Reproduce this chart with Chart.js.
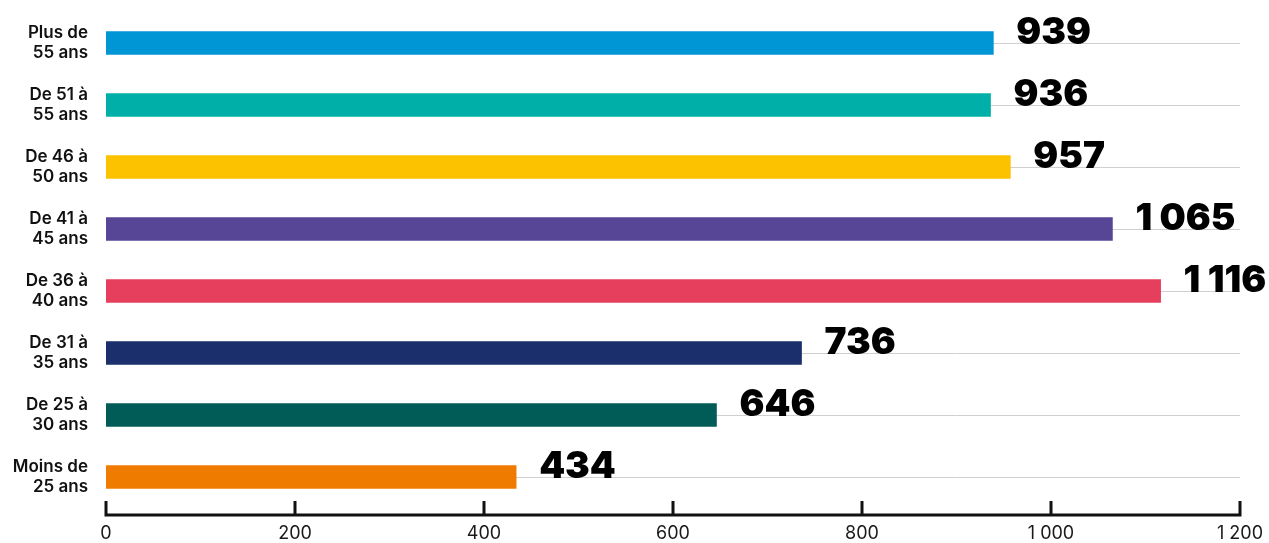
<!DOCTYPE html>
<html>
<head>
<meta charset="utf-8">
<script src="https://cdn.jsdelivr.net/npm/chart.js@4"></script>
<style>
  html, body { margin: 0; padding: 0; background: #ffffff; }
  #wrap { width: 1269px; height: 543px; position: relative; }
</style>
</head>
<body>
<div id="wrap"><canvas id="c"></canvas></div>
<script>
const categories = [
  ['Plus de', '55 ans'],
  ['De 51 à', '55 ans'],
  ['De 46 à', '50 ans'],
  ['De 41 à', '45 ans'],
  ['De 36 à', '40 ans'],
  ['De 31 à', '35 ans'],
  ['De 25 à', '30 ans'],
  ['Moins de', '25 ans']
];
const values = [939, 936, 957, 1065, 1116, 736, 646, 434];
const barColors = ['#0095d5', '#00b0a8', '#fcc200', '#574596', '#e63f5e', '#1a2f6b', '#015c57', '#ef7b00'];
const xTicks = [0, 200, 400, 600, 800, 1000, 1200];

function fmt(v, sep) {
  return String(v).replace(/\B(?=(\d{3})+(?!\d))/g, sep);
}

const valueLabels = {
  id: 'valueLabels',
  afterDatasetsDraw(chart) {
    const ctx = chart.ctx;
    const meta = chart.getDatasetMeta(0);
    ctx.save();
    ctx.fillStyle = '#000000';
    ctx.font = '900 37px Inter';
    ctx.textAlign = 'left';
    ctx.textBaseline = 'alphabetic';
    meta.data.forEach((el, i) => {
      ctx.fillText(fmt(values[i], ' '), el.x + 23, el.y + 1);
    });
    ctx.restore();
  }
};

const bottomAxis = {
  id: 'bottomAxis',
  afterDraw(chart) {
    const ctx = chart.ctx;
    const xs = chart.scales.x;
    const y = chart.chartArea.bottom + 7;
    ctx.save();
    ctx.strokeStyle = '#111111';
    ctx.lineWidth = 3;
    ctx.lineCap = 'butt';
    ctx.beginPath();
    ctx.moveTo(xs.left - 1.5, y);
    ctx.lineTo(xs.right + 1.5, y);
    xs.ticks.forEach(t => {
      const px = xs.getPixelForValue(t.value);
      ctx.moveTo(px, y + 1.5);
      ctx.lineTo(px, y - 14);
    });
    ctx.stroke();
    ctx.restore();
  }
};

new Chart(document.getElementById('c'), {
  type: 'bar',
  data: {
    labels: categories,
    datasets: [{
      data: values,
      backgroundColor: barColors,
      borderWidth: 0,
      barThickness: 23
    }]
  },
  options: {
    indexAxis: 'y',
    responsive: true,
    maintainAspectRatio: false,
    animation: false,
    devicePixelRatio: 1,
    layout: { padding: { top: 12, right: 29, left: 0, bottom: 0 } },
    plugins: {
      legend: { display: false },
      tooltip: { enabled: false },
      title: { display: false }
    },
    scales: {
      x: {
        type: 'linear',
        min: 0,
        max: 1200,
        afterBuildTicks(scale) { scale.ticks = xTicks.map(v => ({ value: v })); },
        afterFit(scale) {
          scale.height = 35;
          scale.paddingLeft = 0; scale.paddingRight = 0;
          scale.paddingTop = 0; scale.paddingBottom = 0;
        },
        grid: { display: false, drawTicks: false },
        border: { display: false },
        ticks: {
          padding: 15,
          color: '#1a1a1a',
          font: { family: 'Inter', size: 18, weight: '400' },
          maxRotation: 0,
          autoSkip: false,
          callback: (v) => fmt(v, ' ')
        }
      },
      y: {
        afterFit(scale) {
          scale.width = 106;
          scale.paddingLeft = 0; scale.paddingRight = 0;
          scale.paddingTop = 0; scale.paddingBottom = 0;
        },
        grid: { display: true, offset: false, color: '#d0d0d0', lineWidth: 1, drawTicks: false },
        border: { display: false },
        ticks: {
          padding: 18,
          color: '#111111',
          font: { family: 'Inter', size: 17, weight: '600', lineHeight: 1.18 },
          autoSkip: false
        }
      }
    }
  },
  plugins: [valueLabels, bottomAxis]
});
</script>
</body>
</html>
